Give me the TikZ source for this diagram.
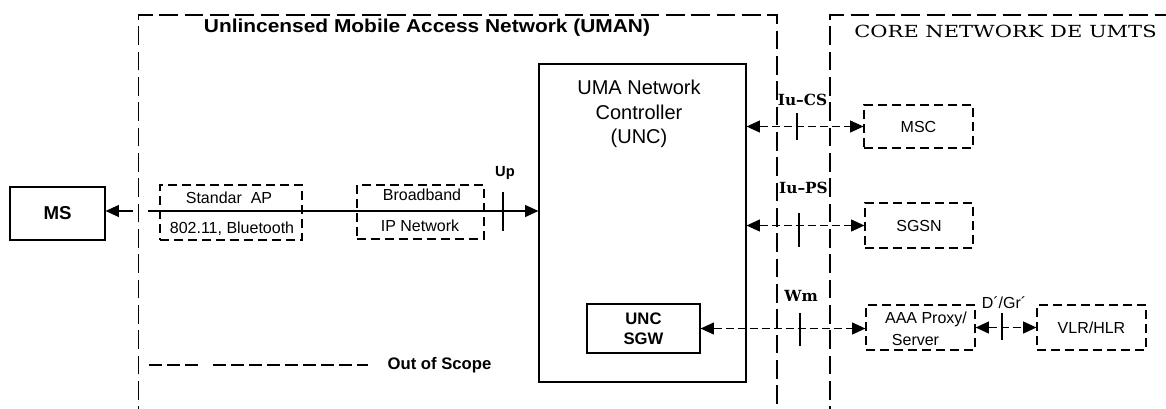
\documentclass[tikz,border=0pt]{standalone}
\usepackage{fontspec}
\newfontfamily\sansf{Liberation Sans}
\newfontfamily\slabf{DejaVu Serif}
\usetikzlibrary{arrows.meta}

\begin{document}
\begin{tikzpicture}[x=0.75pt,y=-0.75pt,
  line width=0.9pt,
  >={Triangle[length=10pt,width=9pt]},
  solidbox/.style={draw, inner sep=0pt},
  dashbox/.style={draw, dash pattern=on 6.75pt off 3.75pt, inner sep=0pt},
  region/.style={draw, dash pattern=on 14pt off 5pt},
  link/.style={dash pattern=on 6pt off 3pt},
  tick/.style={line width=0.9pt},
  smalltxt/.style={font=\sansf\fontsize{12}{14.4}\selectfont, inner sep=0pt},
  boldtxt/.style={font=\sansf\bfseries\fontsize{12.5}{15}\selectfont, inner sep=0pt},
  ifacetxt/.style={font=\slabf\bfseries\fontsize{11.5}{13.8}\selectfont, inner sep=0pt}]

\useasboundingbox (0,0) rectangle (1166,408);
\fill[white] (0,0) rectangle (1166,408);

% network domain borders, open towards the bottom and right
\begin{scope}
  \clip (0,0) rectangle (1166,408);
  \draw[region] (138.5,425) -- (138.5,15) -- (777,15) -- (777,425);
  \draw[region] (830,425) -- (830,15) -- (1180,15);
\end{scope}

% domain titles
\node[font=\sansf\bfseries\fontsize{14}{16}\selectfont, inner sep=0pt] (umantitle) at (427,28)
  {\scalebox{1.12}[1]{Unlincensed Mobile Access Network (UMAN)}};
\node[font=\slabf\fontsize{12.5}{15}\selectfont, inner sep=0pt] (coretitle) at (1005.5,31)
  {\scalebox{1.26}[1]{CORE NETWORK DE UMTS}};

% mobile station
\node[solidbox, minimum width=71.25pt, minimum height=39.75pt,
      font=\sansf\bfseries\fontsize{14}{16}\selectfont] (ms) at (57.5,213.5) {MS};

% access point and broadband network
\node[dashbox, minimum width=106.5pt, minimum height=41.25pt] (ap) at (231,212.5) {};
\node[smalltxt] (apt) at (229,198) {Standar\ \ AP};
\node[smalltxt] (apb) at (232,229) {802.11, Bluetooth};
\node[dashbox, minimum width=95.25pt, minimum height=40.5pt] (ipn) at (420.5,212) {};
\node[smalltxt] (ipt) at (422,195) {Broadband};
\node[smalltxt] (ipb) at (420,226) {IP Network};

% network controller and security gateway
\node[solidbox, minimum width=155.25pt, minimum height=238.5pt] (unc) at (642.5,223) {};
\node[font=\sansf\fontsize{15}{18.4}\selectfont, align=center, inner sep=0pt] (unct) at (639,114)
  {UMA Network\\Controller\\(UNC)};
\node[solidbox, minimum width=84.75pt, minimum height=36.75pt, align=center,
      font=\sansf\bfseries\fontsize{12.5}{15}\selectfont] (sgw) at (643.5,328.5) {UNC\\SGW};

% core network elements
\node[dashbox, minimum width=81.75pt, minimum height=32.25pt, smalltxt] (msc) at (918.5,126.5) {MSC};
\node[dashbox, minimum width=81pt, minimum height=33.75pt, smalltxt] (sgsn) at (919,225.5) {SGSN};
\node[dashbox, minimum width=81.75pt, minimum height=33.75pt] (aaa) at (920.5,327.5) {};
\node[smalltxt] (aaat) at (926,319) {AAA Proxy/};
\node[smalltxt] (aaab) at (915.5,340) {Server};
\node[dashbox, minimum width=81.75pt, minimum height=33.75pt, smalltxt] (vlr) at (1091.5,327.5) {VLR/HLR};

% Up interface towards the mobile station
\coordinate (gapl) at (133,211);
\coordinate (gapr) at (148,211);
\draw[->] (gapl) -- (gapl -| ms.east);
\draw[->] (gapr) -- (gapr -| unc.west);
\draw[tick] (503,192) -- (503,231);
\node[font=\sansf\bfseries\fontsize{11}{13}\selectfont, inner sep=0pt] (up) at (505,173) {Up};

% interfaces towards the core network
\draw[link, <->] (unc.east |- msc.west) -- (msc.west);
\draw[tick] (797,113) -- (797,140);
\node[ifacetxt] (iucs) at (802.5,100) {Iu–CS};

\draw[link, <->] (unc.east |- sgsn.west) -- (sgsn.west);
\draw[tick] (799,213) -- (799,247);
\node[ifacetxt] (iups) at (803.5,188) {Iu–PS};

\draw[link, <->] (sgw.east) -- (sgw.east -| aaa.west);
\draw[tick] (800,313) -- (800,346);
\node[ifacetxt] (wm) at (801,296) {Wm};

\draw[link, <->] (aaa.east) -- (vlr.west);
\draw[tick] (1002,313) -- (1002,340);
\node[smalltxt] (dgr) at (1004,303) {D´/Gr´};

% legend
\draw[dash pattern=on 9.4pt off 4.1pt] (149,365) -- (201,365);
\draw[dash pattern=on 9.4pt off 4.1pt] (213,365) -- (368,365);
\node[boldtxt] (oos) at (439.5,365) {Out of Scope};

\end{tikzpicture}
\end{document}
